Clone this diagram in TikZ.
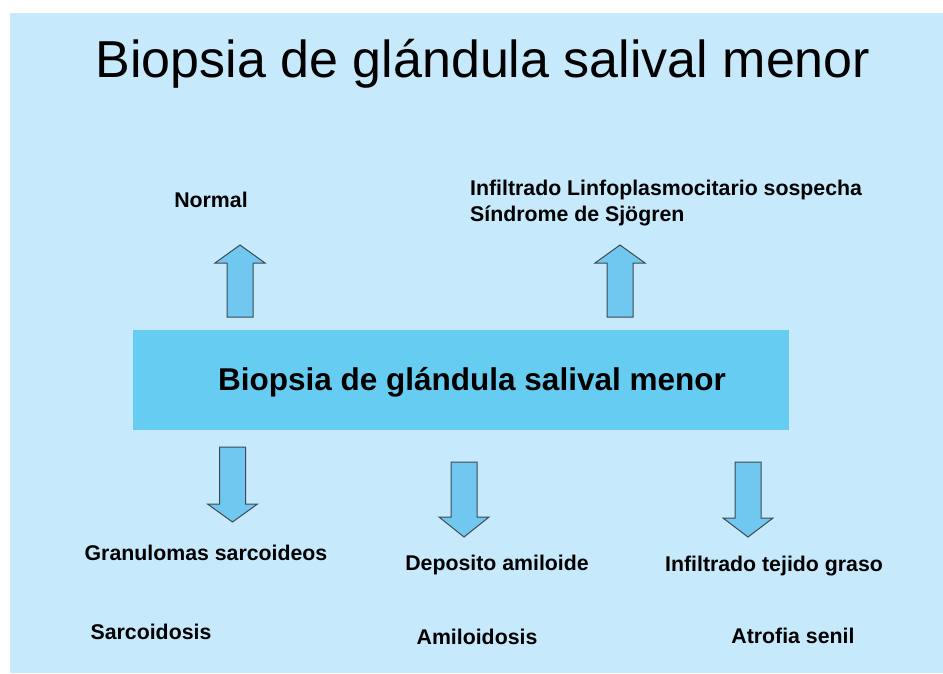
\documentclass[tikz,border=0pt]{standalone}
\usepackage{fontspec}
\setmainfont{Liberation Sans}
\definecolor{bgblue}{HTML}{C6E9FB}
\definecolor{boxblue}{HTML}{66CCF2}
\definecolor{arrowblue}{HTML}{70C8F0}
\definecolor{arrowline}{HTML}{404850}
\newcommand\blockarw[4]{%
  \draw[barrow] (#1-13,#2) -- (#1-13,#3) -- (#1-25,#3) -- (#1,#4) -- (#1+25,#3) -- (#1+13,#3) -- (#1+13,#2) -- cycle;}
\begin{document}
\begin{tikzpicture}[x=1pt,y=-1pt,
  barrow/.style={draw=arrowline,line width=1pt,fill=arrowblue,line join=miter},
  lbl/.style={font=\fontsize{21.3}{25}\selectfont\bfseries,inner sep=0pt}]
\useasboundingbox (0,0) rectangle (943,673);
\fill[bgblue] (10,13) rectangle (943,673);
\node[font=\fontsize{52}{60}\selectfont,inner sep=0pt] (title) at (483,64) {Biopsia de glándula salival menor};
\node[fill=boxblue,minimum width=656pt,minimum height=100pt,inner sep=0pt,anchor=north west] (box) at (133,330) {};
\node[font=\fontsize{31.5}{36}\selectfont\bfseries,inner sep=0pt] (boxtxt) at (472,382) {Biopsia de glándula salival menor};
% up arrows
\blockarw{240}{317}{263}{245}
\blockarw{620}{317}{263}{245}
% down arrows
\blockarw{232.5}{447}{504}{522}
\blockarw{464}{462}{517}{537}
\blockarw{748}{462}{518}{537}
\node[lbl] (normal) at (211,200) {Normal};
\node[lbl,anchor=west] (infl) at (470,190) {Infiltrado Linfoplasmocitario sospecha};
\node[lbl,anchor=west] (sjog) at (470,216) {Síndrome de Sjögren};
\node[lbl] (gran) at (206,553) {Granulomas sarcoideos};
\node[lbl] (depo) at (497,565) {Deposito amiloide};
\node[lbl] (graso) at (774,566) {Infiltrado tejido graso};
\node[lbl] (sarc) at (151,632) {Sarcoidosis};
\node[lbl] (amil) at (477,637) {Amiloidosis};
\node[lbl] (atro) at (793,636) {Atrofia senil};
\end{tikzpicture}
\end{document}
